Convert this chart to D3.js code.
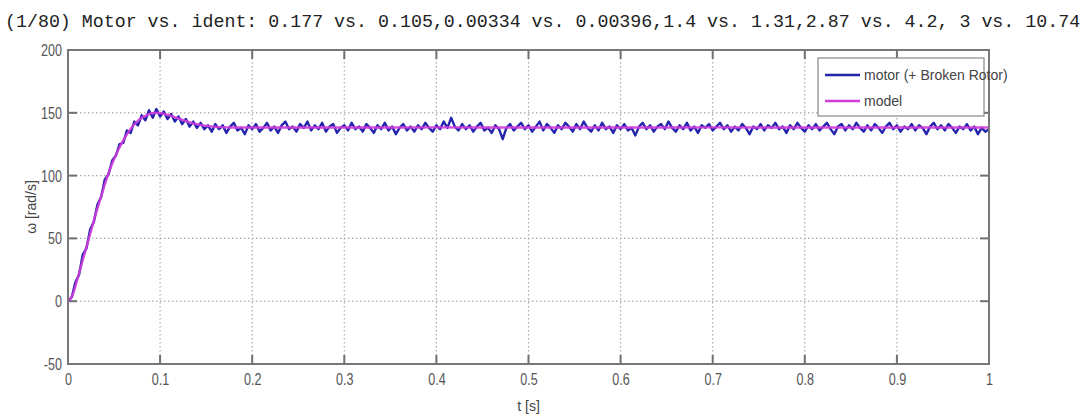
<!DOCTYPE html>
<html>
<head>
<meta charset="utf-8">
<script src="https://cdn.jsdelivr.net/npm/d3@7"></script>
<style>
  html, body { margin: 0; padding: 0; background: #fff; }
  svg { display: block; }
</style>
</head>
<body>
<svg id="chart" width="1086" height="416"></svg>
<script>
// Speed response of the motor (with broken rotor) vs. the identified model.
const titleText = "(1/80) Motor vs. ident: 0.177 vs. 0.105,0.00334 vs. 0.00396,1.4 vs. 1.31,2.87 vs. 4.2, 3 vs. 10.74";
const seriesNames = ["motor (+ Broken Rotor)", "model"];
const xTicks = [0, 0.1, 0.2, 0.3, 0.4, 0.5, 0.6, 0.7, 0.8, 0.9, 1];
const xTickLabels = ["0", "0.1", "0.2", "0.3", "0.4", "0.5", "0.6", "0.7", "0.8", "0.9", "1"];
const yTicks = [-50, 0, 50, 100, 150, 200];
const yTickLabels = ["-50", "0", "50", "100", "150", "200"];

// measured motor speed [rad/s], sampled every 4 ms from t = 0 s
const motorDt = 0.004;
const motorSpeed = [
  0, 3, 15, 21, 37, 42, 57, 63, 77, 83,
  97, 101, 112, 116, 125, 126, 136, 134, 143, 140,
  148, 144, 152, 146, 153, 147, 151, 145, 149, 143,
  147, 141, 145, 139, 143, 138, 142, 137, 140, 135,
  141, 137, 140, 134, 139, 142, 136, 138, 133, 140,
  137, 141, 135, 138, 142, 136, 139, 134, 140, 143,
  137, 139, 135, 141, 138, 143, 136, 140, 137, 142,
  135, 139, 141, 134, 138, 140, 136, 142, 137, 139,
  135, 141, 138, 134, 140, 137, 142, 136, 139, 133,
  138, 141, 136, 139, 135, 140, 137, 142, 138, 135,
  140, 137, 143, 138, 146, 139, 136, 141, 137, 140,
  135, 139, 142, 136, 138, 134, 140, 137, 129, 138,
  141, 136, 139, 142, 137, 140, 135, 139, 143, 136,
  141, 138, 134, 140, 137, 142, 139, 135, 141, 137,
  143, 138, 135, 140, 136, 142, 137, 139, 134, 140,
  137, 141, 136, 138, 132, 139, 142, 137, 140, 135,
  139, 141, 137, 143, 138, 135, 140, 137, 142, 136,
  139, 134, 140, 138, 141, 136, 139, 142, 137, 140,
  135, 139, 136, 141, 138, 133, 139, 137, 141, 136,
  140, 138, 142, 137, 139, 134, 140, 137, 142, 138,
  135, 140, 137, 141, 136, 139, 142, 137, 133, 139,
  141, 136, 140, 137, 142, 138, 135, 140, 136, 141,
  138, 134, 139, 142, 137, 140, 135, 139, 137, 141,
  136, 140, 138, 133, 139, 142, 137, 140, 136, 141,
  138, 134, 139, 137, 141, 136, 139, 133, 138, 135,
  137
];

// identified model response
const modelTime = [0, 0.005, 0.01, 0.015, 0.02, 0.025, 0.03, 0.035, 0.04, 0.045,
  0.05, 0.055, 0.06, 0.065, 0.07, 0.075, 0.08, 0.085, 0.09, 0.095,
  0.1, 0.105, 0.11, 0.115, 0.12, 0.13, 0.14, 0.15, 0.16, 0.18,
  0.2, 0.3, 0.4, 0.5, 0.6, 0.7, 0.8, 0.9, 1.0];
const modelSpeed = [0, 5, 17, 30, 43, 56, 69, 81, 93, 104,
  113, 121, 128, 134, 139, 143, 146, 148, 149.5, 150,
  149.7, 149, 148, 146.8, 145.5, 143, 141, 139.6, 138.8, 138.3,
  138.3, 138.3, 138.4, 138.3, 138.3, 138.4, 138.3, 138.3, 138.3];

const colors = { motor: "#2323ac", model: "#d23cdc" };

const svg = d3.select("#chart");
const plot = { left: 68, right: 989, top: 50, bottom: 364 };

const x = d3.scaleLinear().domain([0, 1]).range([plot.left, plot.right]);
const y = d3.scaleLinear().domain([-50, 200]).range([plot.bottom, plot.top]);

const labelFont = "'Liberation Sans Narrow', 'Liberation Sans', Arial, sans-serif";

// title
svg.append("text")
  .attr("x", 5).attr("y", 27)
  .attr("font-family", "'Liberation Mono', 'Courier New', monospace")
  .attr("font-size", 18.3)
  .attr("fill", "#222")
  .attr("xml:space", "preserve")
  .text(titleText);

// dotted grid
const grid = svg.append("g");
grid.selectAll("line.gx").data(xTicks.slice(1, -1)).join("line")
  .attr("x1", d => x(d)).attr("x2", d => x(d))
  .attr("y1", plot.top).attr("y2", plot.bottom)
  .attr("stroke", "#a8a8a8").attr("stroke-width", 1.2)
  .attr("stroke-dasharray", "1.5,2.5");
grid.selectAll("line.gy").data(yTicks.slice(1, -1)).join("line")
  .attr("x1", plot.left).attr("x2", plot.right)
  .attr("y1", d => y(d)).attr("y2", d => y(d))
  .attr("stroke", "#a8a8a8").attr("stroke-width", 1.2)
  .attr("stroke-dasharray", "1.5,2.5");

// axes
const xAxis = d3.axisBottom(x).tickValues(xTicks)
  .tickFormat((d, i) => xTickLabels[i]).tickSize(0).tickPadding(9);
const yAxis = d3.axisLeft(y).tickValues(yTicks)
  .tickFormat((d, i) => yTickLabels[i]).tickSize(0).tickPadding(6);

const gx = svg.append("g").attr("transform", `translate(0,${plot.bottom})`).call(xAxis);
const gy = svg.append("g").attr("transform", `translate(${plot.left},0)`).call(yAxis);
[gx, gy].forEach(g => {
  g.select(".domain").remove();
  g.selectAll("text")
    .attr("font-family", labelFont)
    .attr("font-size", 17)
    .attr("fill", "#555");
});
gx.selectAll("text").attr("dy", "0.71em").attr("transform", "scale(0.74,1)")
  .attr("x", 0);
gy.selectAll("text").attr("transform", "scale(0.74,1)").attr("x", -6 / 0.74);

// inward tick marks on the frame
const ticks = svg.append("g").attr("stroke", "#707070").attr("stroke-width", 2);
ticks.selectAll("line.tb").data(xTicks).join("line")
  .attr("x1", d => x(d)).attr("x2", d => x(d))
  .attr("y1", plot.bottom).attr("y2", plot.bottom - 9);
ticks.selectAll("line.tt").data(xTicks).join("line")
  .attr("x1", d => x(d)).attr("x2", d => x(d))
  .attr("y1", plot.top).attr("y2", plot.top + 9);
ticks.selectAll("line.tl").data(yTicks).join("line")
  .attr("x1", plot.left).attr("x2", plot.left + 9)
  .attr("y1", d => y(d)).attr("y2", d => y(d));
ticks.selectAll("line.tr").data(yTicks).join("line")
  .attr("x1", plot.right).attr("x2", plot.right - 9)
  .attr("y1", d => y(d)).attr("y2", d => y(d));

// series
svg.append("clipPath").attr("id", "plotClip")
  .append("rect").attr("x", plot.left).attr("y", plot.top)
  .attr("width", plot.right - plot.left).attr("height", plot.bottom - plot.top);

const motorLine = d3.line().x((d, i) => x(i * motorDt)).y(d => y(d));
svg.append("path").datum(motorSpeed)
  .attr("clip-path", "url(#plotClip)")
  .attr("d", motorLine)
  .attr("fill", "none").attr("stroke", colors.motor)
  .attr("stroke-width", 2.4).attr("stroke-linejoin", "round");

const modelLine = d3.line().x((d, i) => x(modelTime[i])).y(d => y(d))
  .curve(d3.curveMonotoneX);
svg.append("path").datum(modelSpeed)
  .attr("clip-path", "url(#plotClip)")
  .attr("d", modelLine)
  .attr("fill", "none").attr("stroke", colors.model)
  .attr("stroke-width", 2.4).attr("stroke-opacity", 0.9);

// frame
svg.append("rect")
  .attr("x", plot.left).attr("y", plot.top)
  .attr("width", plot.right - plot.left).attr("height", plot.bottom - plot.top)
  .attr("fill", "none").attr("stroke", "#777").attr("stroke-width", 2);

// axis titles
svg.append("text")
  .attr("x", (plot.left + plot.right) / 2).attr("y", 411)
  .attr("text-anchor", "middle")
  .attr("font-family", labelFont).attr("font-size", 14).attr("fill", "#444")
  .text("t [s]");
svg.append("text")
  .attr("transform", `translate(36,${(plot.top + plot.bottom) / 2}) rotate(-90)`)
  .attr("text-anchor", "middle")
  .attr("font-family", labelFont).attr("font-size", 14).attr("fill", "#444")
  .text("ω [rad/s]");

// legend
const legend = svg.append("g").attr("transform", "translate(818,58)");
legend.append("rect").attr("width", 166).attr("height", 58)
  .attr("fill", "#fff").attr("stroke", "#888").attr("stroke-width", 1.2);
const legendColors = [colors.motor, colors.model];
seriesNames.forEach((name, i) => {
  const ly = 17 + i * 26;
  legend.append("line").attr("x1", 7).attr("x2", 42).attr("y1", ly).attr("y2", ly)
    .attr("stroke", legendColors[i]).attr("stroke-width", 2.5);
  legend.append("text").attr("x", 46).attr("y", ly).attr("dy", "0.35em")
    .attr("font-family", labelFont).attr("font-size", 14).attr("fill", "#444")
    .text(name);
});
</script>
</body>
</html>
